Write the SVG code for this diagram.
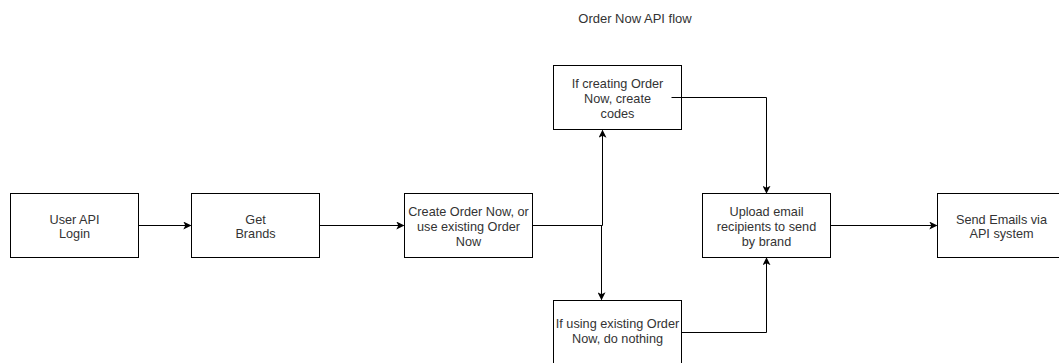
<svg xmlns="http://www.w3.org/2000/svg" width="1059" height="363" viewBox="0 0 1059 363">
<style>
.box{fill:#fff;stroke:#000;stroke-width:1}
.t{font-family:"Liberation Sans",Arial,sans-serif;font-size:12.7px;fill:#333;text-anchor:middle}
.title{font-family:"Liberation Sans",Arial,sans-serif;font-size:13px;fill:#333;text-anchor:middle}
.e{fill:none;stroke:#000;stroke-width:1}
</style>
<defs>
<marker id="arr" viewBox="0 0 10 10" refX="9" refY="5" markerWidth="8" markerHeight="8" markerUnits="userSpaceOnUse" orient="auto">
<path d="M0,0 L10,5 L0,10 L2.5,5 Z" fill="#000"/>
</marker>
</defs>
<rect width="1059" height="363" fill="#fff"/>
<text class="title" x="635" y="23">Order Now API flow</text>
<g id="user-login">
<rect class="box" x="10.5" y="193.5" width="128" height="64"/>
<text class="t" x="74.5" y="223.5">User API</text>
<text class="t" x="74.5" y="238">Login</text>
</g>
<g id="get-brands">
<rect class="box" x="191.5" y="193.5" width="128" height="64"/>
<text class="t" x="255.5" y="223.5">Get</text>
<text class="t" x="255.5" y="238">Brands</text>
</g>
<g id="create-order">
<rect class="box" x="404.5" y="193.5" width="128" height="64"/>
<text class="t" x="468.5" y="216">Create Order Now, or</text>
<text class="t" x="468.5" y="231">use existing Order</text>
<text class="t" x="468.5" y="246">Now</text>
</g>
<g id="create-codes">
<rect class="box" x="553.5" y="65.5" width="128" height="64"/>
<text class="t" x="617.5" y="87.5">If creating Order</text>
<text class="t" x="617.5" y="102.5">Now, create</text>
<text class="t" x="617.5" y="117.5">codes</text>
</g>
<g id="do-nothing">
<rect class="box" x="553.5" y="300.5" width="128" height="64"/>
<text class="t" x="617.5" y="328">If using existing Order</text>
<text class="t" x="617.5" y="343">Now, do nothing</text>
</g>
<g id="upload">
<rect class="box" x="702.5" y="193.5" width="128" height="64"/>
<text class="t" x="766.5" y="216">Upload email</text>
<text class="t" x="766.5" y="230.5">recipients to send</text>
<text class="t" x="766.5" y="245.5">by brand</text>
</g>
<g id="send-emails">
<rect class="box" x="937.5" y="193.5" width="128" height="64"/>
<text class="t" x="1001.5" y="223.5">Send Emails via</text>
<text class="t" x="1001.5" y="238">API system</text>
</g>
<g id="connectors">
<path class="e" d="M138.5,225.5 H190.5" marker-end="url(#arr)"/>
<path class="e" d="M319.5,225.5 H403.5" marker-end="url(#arr)"/>
<path class="e" d="M532.5,225.5 H602.5 V130.5" marker-end="url(#arr)"/>
<path class="e" d="M532.5,225.5 H601.5 V299.5" marker-end="url(#arr)"/>
<path class="e" d="M671.5,97.5 H766.5 V193" marker-end="url(#arr)"/>
<path class="e" d="M681.5,332.5 H766.5 V258" marker-end="url(#arr)"/>
<path class="e" d="M830.5,225.5 H936.5" marker-end="url(#arr)"/>
</g>
</svg>
